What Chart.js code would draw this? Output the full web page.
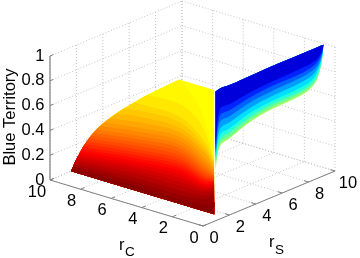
<!DOCTYPE html>
<html><head><meta charset="utf-8">
<style>html,body{margin:0;padding:0;background:#fff}canvas{display:block}</style>
<script src="https://cdn.jsdelivr.net/npm/chart.js@4"></script>
</head><body><canvas id="c" width="360" height="258"></canvas>
<script>
// ---- tick values
const rSTicks = [0,2,4,6,8,10];
const rCTicks = [0,2,4,6,8,10];
const zTicks = [0,0.2,0.4,0.6,0.8,1];
const zLabels = ['0','0.2','0.4','0.6','0.8','1'];

// ---- surface front corner and rear limits
const rSMin = 1.6, rCMin = 0.65, rCMax = 10;

// ---- Blue Territory contours of the red-yellow slope (rS, rC on each contour)
const slopeLevels = [0.375,0.359,0.344,0.328,0.3125,0.297,0.281,0.266,0.25,0.234,0.219,0.203,0.188,0.172,0.156,0.141,0.125,0.109,0.094,0.078,0.0625,0.047,0.031,0.016];
const slopeRS = [
 [9.8,8.83,7.46,5.57,3.82,2.62],
 [7.4,7.45,6.66,5.29,3.58,2.62],
 [6.4,6.38,6.27,4.43,2.70],
 [5.6,5.9,5.9,4.2,2.70],
 [5.0,5.42,5.53,4.0,2.70],
 [4.5,5.05,5.25,3.8,2.70],
 [4.1,4.67,4.99,3.57,2.69],
 [3.8,4.45,4.77,3.4,2.68],
 [3.5,4.23,4.55,3.23,2.67],
 [3.3,4.06,4.38,3.11,2.71],
 [3.1,3.89,4.21,3.0,2.76],
 [2.95,3.73,4.04,2.94,2.80],
 [2.8,3.57,3.88,2.88,2.85],
 [2.65,3.46,3.77,2.88,2.95],
 [2.5,3.35,3.67,2.88,3.06],
 [2.4,3.23,3.55,2.87,3.15],
 [2.3,3.12,3.44,2.86,3.25],
 [2.2,3.0,3.27,2.85,3.30],
 [2.1,2.89,3.10,2.84,3.34],
 [2.0,2.73,2.89,2.84,3.34],
 [1.9,2.57,2.68,2.84,3.33],
 [1.82,2.35,2.41,2.67,3.22],
 [1.75,2.14,2.14,2.51,3.11],
 [1.67,1.9,1.85,2.1,2.7]];
const slopeRC = [
 [10,8.47,6.63,4.54,2.71,1.54],
 [10,7.93,6.27,4.43,2.57,1.54],
 [10,9.62,6.91,3.69,1.61],
 [10,9.2,6.6,3.5,1.61],
 [10,8.79,6.27,3.32,1.61],
 [10,8.45,6.03,3.13,1.61],
 [10,8.15,5.81,2.95,1.61],
 [10,7.96,5.62,2.8,1.60],
 [10,7.77,5.43,2.66,1.59],
 [10,7.62,5.28,2.56,1.62],
 [10,7.48,5.14,2.46,1.66],
 [10,7.33,5.0,2.41,1.70],
 [10,7.19,4.86,2.36,1.74],
 [10,7.1,4.76,2.36,1.83],
 [10,7.01,4.67,2.36,1.92],
 [10,6.91,4.57,2.35,2.0],
 [10,6.81,4.47,2.34,2.09],
 [10,6.71,4.32,2.33,2.12],
 [10,6.61,4.18,2.32,2.16],
 [10,6.47,4.0,2.32,2.16],
 [10,6.33,3.81,2.32,2.16],
 [10,6.14,3.58,2.18,2.06],
 [10,5.96,3.35,2.04,1.97],
 [10,5.9,3.2,1.6,1.55]];
// top edge of the plateau: rS, rC, z
const plateauRS = [10];
const plateauRC = [7.9];
const plateauZ = [0.36];

// ---- steep blue wall (rC nearly constant)
const wallRC = 0.65;
const wallRS = [1.70,2.04,2.80,4.31,5.83,8.10,9.01,9.46,9.77,9.88];
const wallTop = [0.985,0.995,0.99,0.995,1,1,1,1,1,1];
const wallBandShade = [0.47,0.53,0.59,0.656,0.72,0.78,0.84,0.91];
const wallBands = [
 [0.352,0.530,0.561,0.623,0.652,0.665,0.697,0.758,0.881,1],
 [0.384,0.551,0.577,0.640,0.669,0.681,0.709,0.766,0.885,1],
 [0.417,0.583,0.610,0.664,0.693,0.701,0.729,0.786,0.893,1],
 [0.441,0.619,0.642,0.696,0.717,0.729,0.754,0.806,0.905,1],
 [0.465,0.668,0.690,0.736,0.757,0.770,0.790,0.830,0.917,1],
 [0.489,0.724,0.739,0.781,0.798,0.810,0.826,0.859,0.930,1],
 [0.513,0.776,0.787,0.821,0.838,0.842,0.858,0.887,0.942,1],
 [0.554,0.829,0.835,0.861,0.874,0.883,0.891,0.911,0.954,1]];

// ---- view of the 3-D box on the page
function proj(rS,rC,z){ return {x:203+13.2*rS-15.3*rC, y:226-5.5*rS-4.6*rC-124*z}; }
function jet(z){ const t=1-z, c=v=>Math.round(255*Math.max(0,Math.min(1,1.5-Math.abs(v))));
  return `rgb(${c(4*t-3)},${c(4*t-2)},${c(4*t-1)})`; }

const ds=[];
const seg=(pts,color,dash,w)=>ds.push({data:pts.map(p=>proj(...p)),showLine:true,pointRadius:0,
  borderColor:color,borderWidth:w||1,borderDash:dash||[],fill:false,tension:0});
const poly=(pts,color)=>{const d=pts.map(p=>proj(...p));d.push(d[0]);
  ds.push({data:d,showLine:true,pointRadius:0,borderWidth:0,borderColor:color,backgroundColor:color,fill:'shape',tension:0.35});};

// dotted grid on floor and two rear walls
const GR='#c4c4c4', DOT=[1,2];
rSTicks.forEach(v=>{seg([[v,0,0],[v,10,0]],GR,DOT);seg([[v,10,0],[v,10,1]],GR,DOT);});
rCTicks.forEach(v=>{seg([[0,v,0],[10,v,0]],GR,DOT);seg([[10,v,0],[10,v,1]],GR,DOT);});
zTicks.forEach(v=>{seg([[0,10,v],[10,10,v]],GR,DOT);seg([[10,0,v],[10,10,v]],GR,DOT);});
// axes
const AX='#808080';
seg([[0,10,0],[0,0,0]],AX);seg([[0,0,0],[10,0,0]],AX);seg([[0,10,0],[0,10,1]],'#999999',[],1.5);
rCTicks.forEach(v=>seg([[0,v,0],[0.3,v,0]],AX));
rSTicks.forEach(v=>seg([[v,0,0],[v,0.3,0]],AX));
zTicks.forEach(v=>seg([[0,10,v],[0.25,10,v]],AX));

// red-yellow slope: largest region first, each lower level painted over it
const corner=[rSMin,rCMin,0], leftFoot=[rSMin,rCMax,0];
function arcBelow(i){const a=[];for(let k=slopeLevels.length-1;k>i;k--)a.push([slopeRS[k][0],slopeRC[k][0],slopeLevels[k]]);return a;}
const top0=[slopeRS[0][0],slopeRC[0][0],slopeLevels[0]];
poly([top0,top0,[plateauRS[0],plateauRC[0],plateauZ[0]],[plateauRS[0],plateauRC[0],plateauZ[0]],corner,corner,leftFoot,leftFoot,...arcBelow(0)],jet(slopeLevels[0]));
slopeLevels.forEach((z,i)=>{
  const c=slopeRS[i].map((s,j)=>[s,slopeRC[i][j],z]);
  const last=c[c.length-1];
  poly([c[0],...c,last,corner,corner,leftFoot,leftFoot,...arcBelow(i)],jet(z-1/128));
});
// blue wall
const wallTopPts=wallRS.map((s,j)=>[s,wallRC,wallTop[j]]);
wallBands.forEach((row,i)=>{
  const low=wallRS.map((s,j)=>[s,wallRC,row[j]]).reverse();
  poly([wallTopPts[0],...wallTopPts,wallTopPts[wallTopPts.length-1],...low,low[low.length-1]],jet(wallBandShade[i]));
});
ds.forEach((d,i)=>d.order=ds.length-i);

// text, positioned through the same scales
const textPlugin={id:'txt',afterDraw(ch){
  const g=ch.ctx,X=ch.scales.x,Y=ch.scales.y;
  const at=(p,dx,dy)=>[X.getPixelForValue(p.x)+dx,Y.getPixelForValue(p.y)+dy];
  g.save();g.fillStyle='#000';g.textBaseline='middle';
  const F='"Liberation Sans",Arial,sans-serif';
  g.font='16.5px '+F;
  g.textAlign='right';
  zTicks.forEach((v,i)=>{const [a,b]=at(proj(0,10,v),-5.5,0);g.fillText(zLabels[i],a,b);});
  g.textAlign='center';
  rCTicks.forEach(v=>{const [a,b]=at(proj(0,v,0),v==10?-13:-9,12);g.fillText(String(v),a,b);});
  rSTicks.forEach(v=>{const [a,b]=at(proj(v,0,0),v==10?13:11,12);g.fillText(String(v),a,b);});
  g.textAlign='left';
  g.font='16.5px '+F;g.fillText('r',119,245);g.fillText('r',269,242);
  g.font='13.5px '+F;g.fillText('C',125,252);g.fillText('S',275,250);
  g.font='16.5px '+F;g.translate(10.5,117);g.rotate(-Math.PI/2);g.textAlign='center';g.fillText('Blue Territory',0,0);
  g.restore();
}};

new Chart(document.getElementById('c'),{type:'scatter',data:{datasets:ds},plugins:[textPlugin],options:{
  responsive:false,animation:false,events:[],layout:{padding:0},
  plugins:{legend:{display:false},tooltip:{enabled:false},title:{display:false}},
  scales:{x:{type:'linear',min:0,max:360,display:false},y:{type:'linear',min:0,max:258,reverse:true,display:false}}
}});
</script></body></html>
